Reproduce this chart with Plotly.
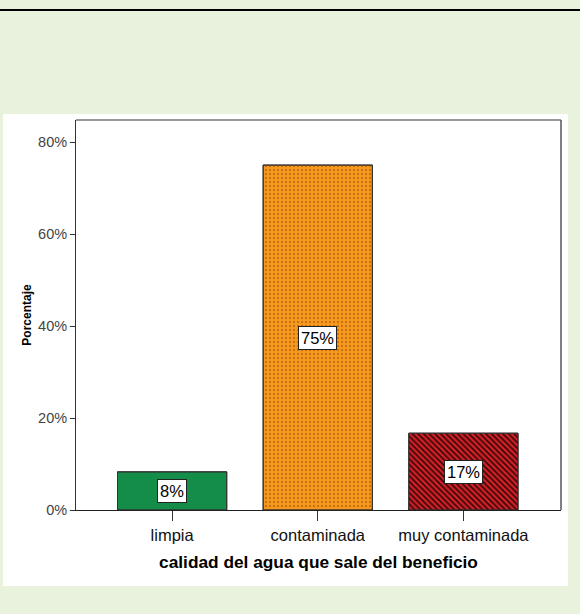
import plotly.graph_objects as go

categories = ["limpia", "contaminada", "muy contaminada"]
values = [8.3, 75.0, 16.7]
labels = ["8%", "75%", "17%"]
colors = ["#138D48", "#F7981E", "#D42128"]
patterns = ["", ".", "\\"]
pattern_fg = ["#138D48", "#B8680E", "#3A0606"]
pattern_solidity = [0.3, 0.22, 0.45]
y_ticks = [0, 20, 40, 60, 80]
y_tick_text = ["0%", "20%", "40%", "60%", "80%"]

W, H = 580, 614
L, R, T, B = 76, 19, 120, 104
pw, ph = W - L - R, H - T - B

def px(x):
    return (x - L) / pw

def py(y):
    return (H - B - y) / ph

fig = go.Figure()
# solid base bars
fig.add_trace(go.Bar(
    x=categories, y=values, width=0.75,
    marker=dict(color=colors, line=dict(color="#333333", width=1)),
    hoverinfo="skip",
))
# pattern overlay on the same bars
fig.add_trace(go.Bar(
    x=categories, y=values, width=0.75,
    marker=dict(
        color="rgba(0,0,0,0)",
        line=dict(color="#333333", width=1),
        pattern=dict(shape=patterns, fgcolor=pattern_fg, bgcolor="rgba(0,0,0,0)",
                     fgopacity=1, size=4, solidity=pattern_solidity, fillmode="replace"),
    ),
    hoverinfo="skip",
))

for c, v, t in zip(categories, values, labels):
    fig.add_annotation(
        x=c, y=v / 2, text=t, showarrow=False,
        font=dict(family="Liberation Sans, Arial", size=16.5, color="#000"),
        bgcolor="white", bordercolor="#222", borderwidth=1, borderpad=2,
    )

shapes = [
    dict(type="rect", xref="paper", yref="paper", x0=px(3), x1=px(568), y0=py(586), y1=py(114),
         fillcolor="white", line=dict(width=0), layer="below"),
    dict(type="line", xref="paper", yref="paper", x0=px(0), x1=px(580), y0=py(10), y1=py(10),
         line=dict(color="black", width=2)),
    dict(type="line", xref="paper", yref="paper", x0=0, x1=1, y0=1, y1=1,
         line=dict(color="#777", width=1.5)),
    dict(type="line", xref="paper", yref="paper", x0=1, x1=1, y0=0, y1=1,
         line=dict(color="#555", width=1.5)),
]

fig.update_layout(
    width=W, height=H,
    margin=dict(l=L, r=R, t=T, b=B),
    paper_bgcolor="#E9F2DD",
    plot_bgcolor="white",
    showlegend=False,
    barmode="overlay",
    font=dict(family="Liberation Sans, Arial", color="#333"),
    shapes=shapes,
    xaxis=dict(
        range=[-0.66, 2.67],
        showline=True, linecolor="#222", linewidth=1,
        ticks="outside", ticklen=10, tickcolor="#333",
        tickfont=dict(size=16.5, color="#111"),
        title=dict(text="<b>calidad del agua que sale del beneficio</b>",
                   font=dict(size=17.3, color="#000"), standoff=13),
        showgrid=False, zeroline=False,
    ),
    yaxis=dict(
        range=[0, 84.8],
        tickvals=y_ticks, ticktext=y_tick_text,
        showline=True, linecolor="#333", linewidth=1,
        ticks="outside", ticklen=5, tickcolor="#333",
        tickfont=dict(size=14.5, color="#444"),
        title=dict(text="<b>Porcentaje</b>", font=dict(size=12, color="#000"), standoff=3),
        showgrid=False, zeroline=False,
    ),
)

fig.write_html(
    "out.html",
    config={"displayModeBar": False},
    post_script="document.body.style.margin='0';document.body.style.overflow='hidden';",
)
